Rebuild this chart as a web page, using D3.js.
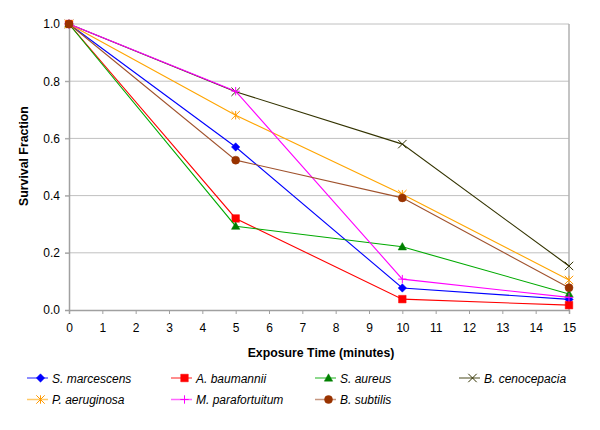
<!DOCTYPE html>
<html>
<head>
<meta charset="utf-8">
<script src="https://cdn.jsdelivr.net/npm/d3@7"></script>
<style>
  body { margin: 0; background: #fff; }
  text { font-family: "Liberation Sans", Arial, sans-serif; fill: #000; }
</style>
</head>
<body>
<div id="chart"></div>
<script>
const times = [0, 5, 10, 15];
const xTicks = d3.range(0, 16);
const yTicks = [0, 0.2, 0.4, 0.6, 0.8, 1.0];

const names = ["S. marcescens", "A. baumannii", "S. aureus", "B. cenocepacia",
  "P. aeruginosa", "M. parafortuitum", "B. subtilis"];
const sMarcescens = [1.0, 0.57, 0.077, 0.037];
const aBaumannii = [1.0, 0.32, 0.038, 0.017];
const sAureus = [1.0, 0.293, 0.221, 0.056];
const bCenocepacia = [1.0, 0.763, 0.58, 0.154];
const pAeruginosa = [1.0, 0.681, 0.405, 0.105];
const mParafortuitum = [1.0, 0.765, 0.108, 0.044];
const bSubtilis = [1.0, 0.524, 0.392, 0.078];
const seriesValues = [sMarcescens, aBaumannii, sAureus, bCenocepacia,
  pAeruginosa, mParafortuitum, bSubtilis];

const lineColors = ["#0000ff", "#ff0000", "#00aa00", "#333300", "#ffa500", "#ff00ff", "#a0522d"];
const markColors = ["#0000ff", "#ff0000", "#008000", "#333300", "#ff9900", "#ff00ff", "#993300"];
const markTypes = ["diamond", "square", "triangle", "x", "star", "plus", "circle"];

const width = 600, height = 430;
const margin = { top: 24, right: 31, bottom: 120, left: 69 };

const svg = d3.select("#chart").append("svg")
  .attr("width", width).attr("height", height);

const x = d3.scaleLinear().domain([0, 15]).range([margin.left, width - margin.right]);
const y = d3.scaleLinear().domain([0, 1]).range([height - margin.bottom, margin.top]);

// gridlines
svg.append("g").selectAll("line").data(yTicks.filter(d => d > 0)).enter()
  .append("line")
  .attr("x1", x(0) - 4).attr("x2", x(15))
  .attr("y1", d => y(d)).attr("y2", d => y(d))
  .attr("stroke", "#c0c0c0").attr("stroke-width", 1);

// right border
svg.append("line")
  .attr("x1", x(15)).attr("x2", x(15)).attr("y1", y(1)).attr("y2", y(0))
  .attr("stroke", "#b0b0b0").attr("stroke-width", 1.5);

// axes
const xAxis = svg.append("g")
  .attr("transform", `translate(0,${y(0)})`)
  .call(d3.axisBottom(x).tickValues(xTicks).tickSize(4).tickPadding(9).tickFormat(d3.format("d")));
const yAxis = svg.append("g")
  .attr("transform", `translate(${x(0)},0)`)
  .call(d3.axisLeft(y).tickValues(yTicks).tickSize(4).tickPadding(5).tickFormat(d3.format(".1f")));
[xAxis, yAxis].forEach(a => {
  a.select(".domain").attr("stroke", "#a0a0a0").attr("stroke-width", 1.5);
  a.selectAll(".tick line").attr("stroke", "#a0a0a0");
  a.selectAll("text").attr("font-size", 12).attr("font-family", "Liberation Sans, Arial, sans-serif");
});

// axis titles
svg.append("text")
  .attr("x", (x(0) + x(15)) / 2 + 2).attr("y", 357)
  .attr("text-anchor", "middle")
  .attr("font-size", 12.3).attr("font-weight", "bold")
  .text("Exposure Time (minutes)");
svg.append("text")
  .attr("transform", "translate(28,156) rotate(-90)")
  .attr("text-anchor", "middle")
  .attr("font-size", 12.3).attr("font-weight", "bold")
  .text("Survival Fraction");

function marker(type, s) {
  const p = d3.path();
  if (type === "diamond") {
    p.moveTo(0, -s); p.lineTo(s, 0); p.lineTo(0, s); p.lineTo(-s, 0); p.closePath();
  } else if (type === "square") {
    p.rect(-s * 0.9, -s * 0.9, s * 1.8, s * 1.8);
  } else if (type === "triangle") {
    p.moveTo(0, -s); p.lineTo(s, s * 0.75); p.lineTo(-s, s * 0.75); p.closePath();
  } else if (type === "x") {
    p.moveTo(-s, -s); p.lineTo(s, s); p.moveTo(-s, s); p.lineTo(s, -s);
  } else if (type === "star") {
    p.moveTo(-s, -s); p.lineTo(s, s); p.moveTo(-s, s); p.lineTo(s, -s);
    p.moveTo(0, -s); p.lineTo(0, s);
  } else if (type === "plus") {
    p.moveTo(-s, 0); p.lineTo(s, 0); p.moveTo(0, -s); p.lineTo(0, s);
  } else {
    p.arc(0, 0, s, 0, 2 * Math.PI);
  }
  return p.toString();
}
const filled = t => ["diamond", "square", "triangle", "circle"].includes(t);

function drawMarker(g, type, color, cx, cy) {
  g.append("path")
    .attr("d", marker(type, type === "circle" ? 4 : 4.2))
    .attr("transform", `translate(${cx},${cy})`)
    .attr("fill", filled(type) ? color : "none")
    .attr("stroke", color)
    .attr("stroke-width", filled(type) ? 0.5 : 1);
}

const line = d3.line().x((d, i) => x(times[i])).y(d => y(d));

seriesValues.forEach((vals, k) => {
  const g = svg.append("g");
  g.append("path").datum(vals)
    .attr("d", line).attr("fill", "none")
    .attr("stroke", lineColors[k]).attr("stroke-width", 1.1);
  vals.forEach((v, i) => drawMarker(g, markTypes[k], markColors[k], x(times[i]), y(v)));
});

// legend
const legend = svg.append("g");
names.forEach((n, k) => {
  const col = k % 4, row = Math.floor(k / 4);
  const lx = 27 + col * 144, ly = 378 + row * 21.5;
  const g = legend.append("g");
  g.append("line").attr("x1", lx).attr("x2", lx + 21).attr("y1", ly).attr("y2", ly)
    .attr("stroke", lineColors[k]).attr("stroke-opacity", 0.6).attr("stroke-width", 1.5);
  drawMarker(g, markTypes[k], markColors[k], lx + 13.5, ly);
  g.append("text").attr("x", lx + 25).attr("y", ly + 4.5)
    .attr("font-size", 12).attr("font-style", "italic").text(n);
});
</script>
</body>
</html>
